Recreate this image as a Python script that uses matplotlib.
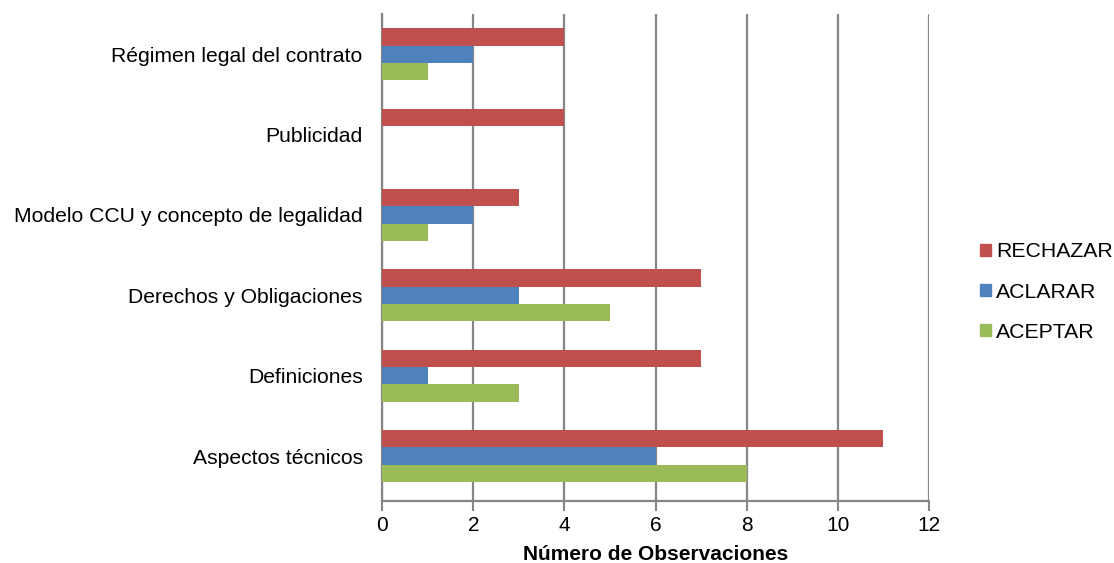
import numpy as np
import matplotlib.pyplot as plt
from matplotlib.patches import Patch

plt.rcParams['font.family'] = ['Liberation Sans', 'DejaVu Sans']

categories = ['Aspectos técnicos', 'Definiciones', 'Derechos y Obligaciones',
              'Modelo CCU y concepto de legalidad', 'Publicidad',
              'Régimen legal del contrato']
aceptar = [8, 3, 5, 1, 0, 1]
aclarar = [6, 1, 3, 2, 0, 2]
rechazar = [11, 7, 7, 3, 4, 4]

col_red = '#C0504D'
col_blue = '#4F81BD'
col_green = '#9BBB59'

fig = plt.figure(figsize=(11.14, 5.63), dpi=100)
ax = fig.add_axes([0.343, 0.110, 0.491, 0.865])

y = np.arange(len(categories))
h = 0.215
ax.barh(y - h, aceptar, height=h, color=col_green, zorder=3)
ax.barh(y, aclarar, height=h, color=col_blue, zorder=3)
ax.barh(y + h, rechazar, height=h, color=col_red, zorder=3)

ax.set_xlim(0, 12)
ax.set_ylim(-0.56, len(categories) - 0.5)
ax.set_xticks(range(0, 13, 2))
ax.set_yticks(y)
ax.set_yticklabels(categories, fontsize=15.2)
ax.tick_params(axis='y', length=0, pad=14)
ax.tick_params(axis='x', labelsize=15, length=7, width=1.5, color='#868686', pad=4)
ax.xaxis.grid(True, color='#868686', linewidth=1.6, zorder=0)

for s in ['top', 'right']:
    ax.spines[s].set_visible(False)
ax.spines['left'].set_color('#868686')
ax.spines['left'].set_linewidth(1.6)
ax.spines['bottom'].set_color('#868686')
ax.spines['bottom'].set_linewidth(1.6)

ax.set_xlabel('Número de Observaciones', fontsize=15, fontweight='bold', labelpad=7)

handles = [Patch(color=col_red, label='RECHAZAR'),
           Patch(color=col_blue, label='ACLARAR'),
           Patch(color=col_green, label='ACEPTAR')]
fig.legend(handles=handles, loc='center left', bbox_to_anchor=(0.872, 0.481),
           frameon=False, fontsize=15.3, handlelength=0.5, handleheight=0.5,
           handletextpad=0.25, labelspacing=1.0, borderaxespad=0.0)

fig.savefig('out.png', dpi=100)
